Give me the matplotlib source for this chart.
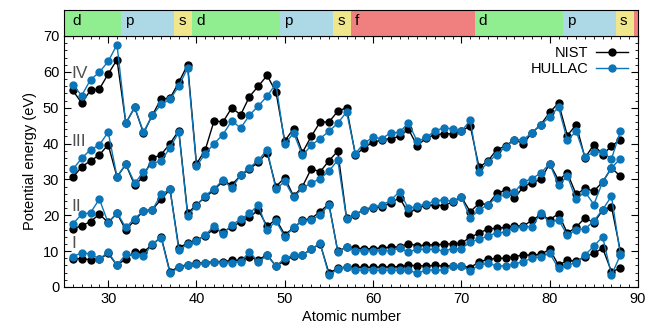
import matplotlib
matplotlib.use("Agg")
import matplotlib.pyplot as plt
from matplotlib.ticker import MultipleLocator

plt.rcParams['font.family'] = ['Liberation Sans', 'DejaVu Sans']

Z = list(range(26, 89))

# stage I
nist_1 = [7.9, 7.9, 7.6, 7.7, 9.4, 6.0, 7.9, 9.8, 9.8, 11.8, 14.0, 4.2, 5.7, 6.2, 6.6, 6.8, 7.1, 7.1, 7.4, 7.5,
          8.3, 7.6, 9.0, 5.8, 7.3, 8.6, 9.0, 10.5, 12.1, 3.9, 5.2, 5.6, 5.5, 5.5, 5.5, 5.6, 5.6, 5.7, 6.1, 5.9,
          5.9, 6.0, 5.9, 5.9, 5.9, 5.4, 7.0, 7.7, 8.0, 8.0, 8.5, 8.9, 8.9, 9.1, 10.5, 6.1, 7.4, 7.2, 8.4, 9.4,
          10.8, 4.3, 5.2]
hullac_1 = [8.4, 9.6, 9.2, 7.8, 9.7, 6.1, 9.1, 8.9, 8.7, 11.9, 13.8, 3.8, 5.5, 6.1, 6.4, 6.8, 7.1, 6.8, 6.8, 7.0,
            9.8, 7.0, 8.8, 5.8, 8.0, 8.9, 8.9, 10.5, 12.2, 3.3, 5.0, 5.7, 4.7, 4.7, 4.7, 4.6, 4.7, 4.6, 4.7, 3.8,
            4.7, 4.8, 4.7, 5.8, 5.8, 4.5, 6.1, 6.6, 5.9, 5.9, 6.4, 7.1, 8.0, 8.4, 9.4, 5.2, 6.1, 6.8, 8.9, 11.4,
            14.0, 3.3, 8.9]
# stage II
nist_2 = [16.2, 17.1, 18.2, 20.3, 18.0, 20.5, 15.9, 18.6, 21.2, 21.6, 24.4, 27.3, 11.0, 12.2, 13.1, 14.3, 16.2,
          15.3, 16.8, 18.1, 19.4, 21.5, 16.9, 18.9, 14.6, 16.5, 18.6, 19.1, 21.0, 23.2, 10.0, 11.1, 10.9, 10.6,
          10.7, 10.9, 11.1, 11.2, 12.1, 11.5, 11.7, 11.8, 11.9, 12.1, 12.2, 13.9, 15.0, 16.2, 16.4, 16.6, 17.0,
          17.0, 18.6, 20.2, 18.8, 20.4, 15.0, 16.7, 19.3, 17.9, 21.4, 22.4, 10.1]
hullac_2 = [17.6, 20.3, 20.7, 24.5, 17.9, 20.7, 16.6, 19.1, 21.2, 21.5, 25.8, 27.3, 10.3, 11.9, 12.9, 14.5, 17.0,
            14.9, 17.3, 18.9, 20.5, 22.9, 15.9, 18.4, 14.0, 16.6, 18.5, 18.7, 20.1, 22.9, 9.8, 11.2, 10.1, 10.1,
            10.1, 10.1, 10.1, 10.8, 9.8, 10.5, 10.5, 10.5, 10.0, 10.7, 10.7, 12.5, 13.3, 14.2, 15.1, 15.3, 16.5,
            16.8, 16.8, 20.7, 17.9, 18.8, 14.4, 16.0, 16.2, 18.4, 21.6, 25.3, 9.1]
# stage III
nist_3 = [30.6, 33.5, 35.2, 36.8, 39.7, 30.7, 34.2, 28.4, 30.8, 35.9, 36.9, 40.0, 43.6, 20.5, 23.0, 25.0, 27.1,
          29.5, 28.5, 31.1, 32.9, 34.8, 37.5, 28.0, 30.5, 25.3, 28.0, 33.0, 32.1, 35.2, 37.9, 19.2, 20.2, 21.6,
          22.1, 22.4, 23.4, 24.9, 20.6, 21.9, 22.8, 22.8, 22.7, 23.7, 25.1, 21.0, 23.3, 23.0, 26.1, 27.0, 24.7,
          27.9, 29.1, 30.0, 34.4, 29.8, 31.8, 25.8, 27.5, 26.7, 29.3, 33.2, 30.9]
hullac_3 = [32.8, 35.9, 38.3, 39.6, 43.2, 30.7, 34.3, 29.0, 32.0, 34.4, 35.2, 38.8, 43.2, 19.9, 22.7, 25.5, 27.4,
            29.8, 27.6, 31.2, 33.3, 35.3, 38.3, 27.2, 29.5, 25.0, 27.6, 29.0, 30.2, 32.3, 35.4, 19.0, 20.3, 21.6,
            22.4, 22.8, 24.2, 26.6, 21.9, 22.6, 23.1, 24.0, 24.3, 23.9, 25.1, 19.3, 21.4, 23.0, 24.9, 25.8, 26.4,
            29.3, 30.2, 31.8, 34.4, 28.4, 30.9, 24.4, 26.6, 23.0, 29.3, 33.2, 35.8]
# stage IV
nist_4 = [54.8, 51.3, 54.9, 55.2, 59.4, 63.4, 45.7, 50.1, 42.9, 47.9, 52.5, 52.6, 57.1, 62.0, 34.3, 38.3, 46.4,
          46.0, 50.0, 48.0, 53.1, 56.0, 59.0, 54.4, 40.7, 44.2, 37.5, 42.0, 46.0, 46.0, 49.0, 50.0, 36.8, 38.9,
          40.4, 41.0, 41.4, 42.0, 44.0, 39.4, 41.5, 42.5, 42.7, 42.7, 43.4, 45.0, 33.4, 35.1, 38.3, 39.3, 41.1,
          40.0, 43.0, 45.3, 48.7, 51.3, 42.2, 45.3, 36.0, 39.7, 36.9, 39.3, 41.1]
hullac_4 = [56.4, 53.4, 57.8, 59.9, 62.9, 67.6, 45.6, 50.1, 43.2, 47.9, 50.9, 52.3, 56.0, 61.1, 33.7, 37.2, 40.0,
            42.5, 46.4, 44.3, 47.9, 50.5, 53.2, 56.7, 39.8, 43.0, 36.7, 39.5, 41.4, 43.4, 45.7, 48.8, 37.2, 40.2,
            41.7, 41.4, 43.0, 43.1, 45.8, 40.6, 41.7, 43.5, 44.4, 44.1, 43.4, 46.5, 32.0, 34.8, 36.9, 39.1, 41.1,
            41.1, 43.0, 45.3, 47.4, 50.2, 40.9, 43.4, 36.3, 37.6, 37.6, 35.7, 43.4]

stage_names = ['I', 'II', 'III', 'IV']
stage_label_y = [12, 22.5, 40.5, 59.5]

# block bands at the top
band_edges = [25, 31.5, 37.5, 39.5, 49.5, 55.5, 57.5, 71.5, 81.5, 87.5, 89.5, 90]
band_names = ['d', 'p', 's', 'd', 'p', 's', 'f', 'd', 'p', 's', '']
band_colors = {'d': 'lightgreen', 'p': 'lightblue', 's': 'khaki', 'f': 'lightcoral', '': 'lightcoral'}

black = 'black'
blue = '#0a75b8'

fig = plt.figure(figsize=(6.5, 3.29), dpi=100)
ax = fig.add_axes([0.0985, 0.1277, 0.883, 0.7629])
axb = fig.add_axes([0.0985, 0.8906, 0.883, 0.0790], sharex=ax)

nist = [nist_1, nist_2, nist_3, nist_4]
hullac = [hullac_1, hullac_2, hullac_3, hullac_4]
for i in range(4):
    ax.plot(Z, nist[i], '-o', color=black, lw=1, ms=5, label='NIST' if i == 0 else None)
    ax.plot(Z, hullac[i], '-o', color=blue, lw=1, ms=5, label='HULLAC' if i == 0 else None)
    ax.text(25.8, stage_label_y[i], stage_names[i], fontsize=12.5, color='#505050', va='center', ha='left')

ax.set_xlim(25, 90)
ax.set_ylim(0, 70)
ax.xaxis.set_major_locator(MultipleLocator(10))
ax.xaxis.set_minor_locator(MultipleLocator(1))
ax.yaxis.set_major_locator(MultipleLocator(10))
ax.yaxis.set_minor_locator(MultipleLocator(2))
ax.tick_params(which='both', direction='in', top=True, right=True, labelsize=10.5)
ax.tick_params(which='major', length=5)
ax.tick_params(which='minor', length=2.5)
ax.set_xlabel('Atomic number', fontsize=10.5, labelpad=3)
ax.set_ylabel('Potential energy (eV)', fontsize=10.5, labelpad=4)
ax.legend(loc='upper right', frameon=False, markerfirst=False, fontsize=10.5,
          handlelength=2.2, borderaxespad=0.3, labelspacing=0.15, handletextpad=0.5)

for k in range(len(band_names)):
    x0, x1 = band_edges[k], band_edges[k + 1]
    axb.axvspan(x0, x1, color=band_colors[band_names[k]], lw=0)
    if band_names[k]:
        axb.text(max(x0, 25.5) + 0.45, 0.42, band_names[k], fontsize=11, va='baseline', ha='left')
axb.set_ylim(0, 1)
axb.tick_params(which='both', left=False, bottom=False, labelleft=False, labelbottom=False)

fig.savefig('out.png', dpi=100)
